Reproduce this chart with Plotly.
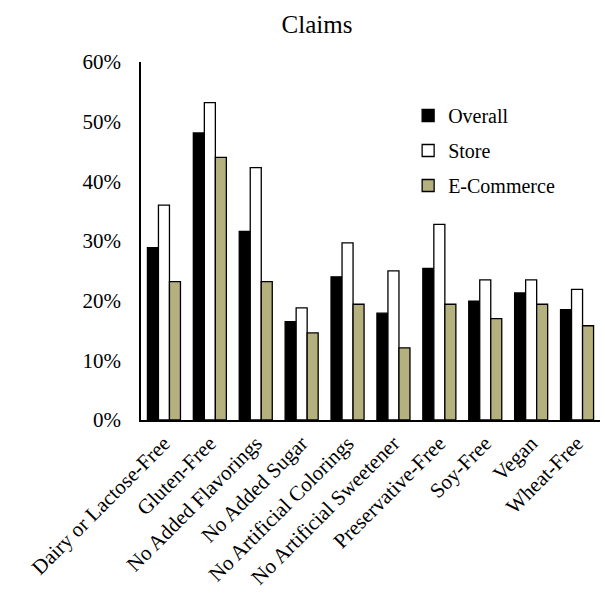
import plotly.graph_objects as go

categories = [
    "Dairy or Lactose-Free", "Gluten-Free", "No Added Flavorings", "No Added Sugar",
    "No Artificial Colorings", "No Artificial Sweetener", "Preservative-Free",
    "Soy-Free", "Vegan", "Wheat-Free",
]
overall = [28.9, 48.1, 31.6, 16.5, 24.0, 17.9, 25.4, 19.9, 21.3, 18.5]
store = [36.0, 53.2, 42.3, 18.8, 29.7, 25.0, 32.8, 23.5, 23.5, 21.9]
ecommerce = [23.2, 44.0, 23.2, 14.6, 19.4, 12.1, 19.4, 17.0, 19.4, 15.8]

series_names = ["Overall", "Store", "E-Commerce"]
series_colors = ["#000000", "#FFFFFF", "#B5B17F"]
tick_vals = [0, 10, 20, 30, 40, 50, 60]
tick_text = ["0%", "10%", "20%", "30%", "40%", "50%", "60%"]

FONT = "Liberation Serif, Times New Roman, serif"

fig = go.Figure()
for name, vals, color in zip(series_names, [overall, store, ecommerce], series_colors):
    fig.add_trace(go.Bar(
        x=categories, y=vals, name=name, legendgroup=name,
        marker=dict(color=color, line=dict(color="#000000", width=1.3)),
    ))

fig.update_layout(
    width=605, height=615,
    paper_bgcolor="white", plot_bgcolor="white",
    margin=dict(l=141, r=5, t=62, b=195),
    barmode="group", bargap=0.28, bargroupgap=0,
    font=dict(family=FONT, size=21, color="black"),
    title=dict(text="Claims", x=0.524, xanchor="center", y=0.96, yanchor="middle",
               font=dict(family=FONT, size=25, color="black")),
    legend=dict(x=0.582, y=0.905, xanchor="left", yanchor="top",
                font=dict(family=FONT, size=20, color="black"),
                bgcolor="rgba(0,0,0,0)", tracegroupgap=6, itemwidth=30),
    showlegend=True,
)
fig.update_xaxes(
    tickangle=-45, showline=True, linecolor="black", linewidth=1.5,
    showgrid=False, ticks="", ticklabelstandoff=1,
    tickfont=dict(family=FONT, size=21, color="black"),
)
fig.update_yaxes(
    range=[0, 60], tickvals=tick_vals, ticktext=tick_text,
    showline=True, linecolor="black", linewidth=1.5, showgrid=False,
    zeroline=False, ticks="", ticklabelstandoff=14,
    tickfont=dict(family=FONT, size=21, color="black"),
)

fig.write_html("out.html")
